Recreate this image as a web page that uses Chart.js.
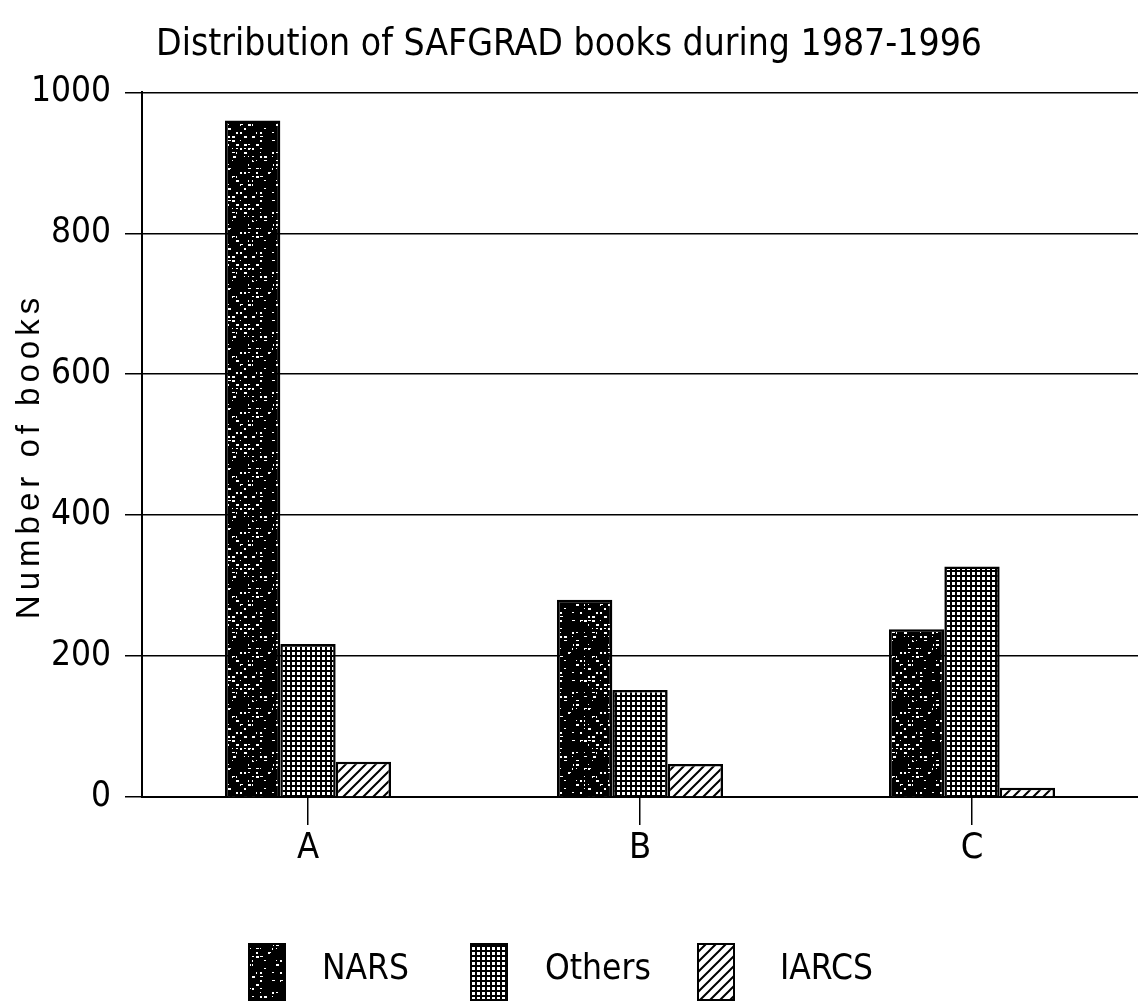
<!DOCTYPE html>
<html>
<head>
<meta charset="utf-8">
<script src="https://cdn.jsdelivr.net/npm/chart.js@4/dist/chart.umd.min.js"></script>
<style>
  html, body { margin: 0; padding: 0; background: #fff; }
  #wrap { width: 1138px; height: 1004px; }
</style>
</head>
<body>
<div id="wrap"><canvas id="booksChart" width="1138" height="1004"></canvas></div>
<script>
// data
const categories = ['A', 'B', 'C'];
const narsValues = [960, 280, 238];
const othersValues = [217, 152, 327];
const iarcsValues = [50, 47, 13];
const seriesLabels = ['NARS', 'Others', 'IARCS'];
const yTicks = [0, 200, 400, 600, 800, 1000];

const narrow = '"Liberation Sans Narrow", "DejaVu Sans Condensed", "Liberation Sans", sans-serif';

// black with white specks
function speckPattern() {
    const c = document.createElement('canvas');
    c.width = 60; c.height = 60;
    const g = c.getContext('2d');
    g.fillStyle = '#000';
    g.fillRect(0, 0, 60, 60);
    g.fillStyle = '#fff';
    let s = 7;
    for (let i = 0; i < 110; i++) {
        s = (s * 1103515245 + 12345) % 2147483648;
        const x = s % 60;
        s = (s * 1103515245 + 12345) % 2147483648;
        const y = s % 60;
        const w = 1 + (i % 3);
        g.fillRect(x, y, w, (i % 2) + 1);
    }
    return g.createPattern(c, 'repeat');
}

// small square grid
function gridPattern() {
    const c = document.createElement('canvas');
    c.width = 5; c.height = 5;
    const g = c.getContext('2d');
    g.fillStyle = '#fff';
    g.fillRect(0, 0, 5, 5);
    g.fillStyle = '#000';
    g.fillRect(0, 0, 5, 2);
    g.fillRect(0, 0, 2, 5);
    return g.createPattern(c, 'repeat');
}

// diagonal hatch
function hatchPattern() {
    const c = document.createElement('canvas');
    c.width = 10; c.height = 10;
    const g = c.getContext('2d');
    g.fillStyle = '#fff';
    g.fillRect(0, 0, 10, 10);
    g.strokeStyle = '#000';
    g.lineWidth = 2;
    g.beginPath();
    g.moveTo(-2, 12); g.lineTo(12, -2);
    g.moveTo(-2, 2); g.lineTo(2, -2);
    g.moveTo(8, 12); g.lineTo(12, 8);
    g.stroke();
    return g.createPattern(c, 'repeat');
}

const fills = [speckPattern(), gridPattern(), hatchPattern()];

// rotated y title with letter spacing
const yTitlePlugin = {
    id: 'yTitle',
    afterDraw(chart) {
        const ctx = chart.ctx;
        ctx.save();
        ctx.translate(30, 456);
        ctx.rotate(-Math.PI / 2);
        ctx.font = '33px "Liberation Sans", Arial, sans-serif';
        ctx.letterSpacing = '5px';
        ctx.fillStyle = '#000';
        ctx.textAlign = 'center';
        ctx.textBaseline = 'middle';
        ctx.fillText('Number of books', 0, 0);
        ctx.restore();
    }
};

// legend along the bottom
const bottomLegend = {
    id: 'bottomLegend',
    afterDraw(chart) {
        const ctx = chart.ctx;
        const boxX = [249, 471, 698];
        const textX = [322, 545, 780];
        ctx.save();
        chart.data.datasets.forEach((ds, i) => {
            ctx.fillStyle = ds.backgroundColor;
            ctx.fillRect(boxX[i], 944, 36, 56);
            ctx.strokeStyle = '#000';
            ctx.lineWidth = 2;
            ctx.strokeRect(boxX[i], 944, 36, 56);
            ctx.fillStyle = '#000';
            ctx.font = '35px ' + narrow;
            ctx.textAlign = 'left';
            ctx.textBaseline = 'middle';
            ctx.fillText(ds.label, textX[i], 970);
        });
        ctx.restore();
    }
};

const ctx = document.getElementById('booksChart').getContext('2d');
const booksChart = new Chart(ctx, {
    type: 'bar',
    data: {
        labels: categories,
        datasets: [narsValues, othersValues, iarcsValues].map((vals, i) => ({
            label: seriesLabels[i],
            data: vals,
            backgroundColor: fills[i],
            borderColor: '#000',
            borderWidth: 2.5,
            categoryPercentage: 0.5,
            barPercentage: 1.0
        }))
    },
    options: {
        responsive: false,
        animation: false,
        layout: { padding: { left: 0, right: 0, top: 0, bottom: 137 } },
        scales: {
            y: {
                min: 0,
                max: 1000,
                afterFit: (scale) => { scale.width = 142; },
                afterBuildTicks: (scale) => { scale.ticks = yTicks.map(v => ({ value: v })); },
                border: { display: true, color: '#000', width: 2 },
                grid: { color: '#000', lineWidth: 1.5, drawTicks: true, tickLength: 17 },
                ticks: {
                    color: '#000',
                    padding: 14,
                    font: { family: narrow, size: 35 },
                    callback: (v) => String(v)
                }
            },
            x: {
                afterFit: (scale) => { scale.height = 70; },
                border: { display: true, color: '#000', width: 2 },
                grid: { offset: false, drawOnChartArea: false, drawTicks: true, tickLength: 28, color: '#000', lineWidth: 1.5 },
                ticks: {
                    color: '#000',
                    padding: 2,
                    font: { family: narrow, size: 36 }
                }
            }
        },
        plugins: {
            legend: { display: false },
            tooltip: { enabled: false },
            title: {
                display: true,
                text: 'Distribution of SAFGRAD books during 1987-1996',
                color: '#000',
                padding: { top: 23, bottom: 25 },
                font: { family: narrow, size: 37, weight: 'normal' }
            }
        }
    },
    plugins: [yTitlePlugin, bottomLegend]
});
</script>
</body>
</html>
